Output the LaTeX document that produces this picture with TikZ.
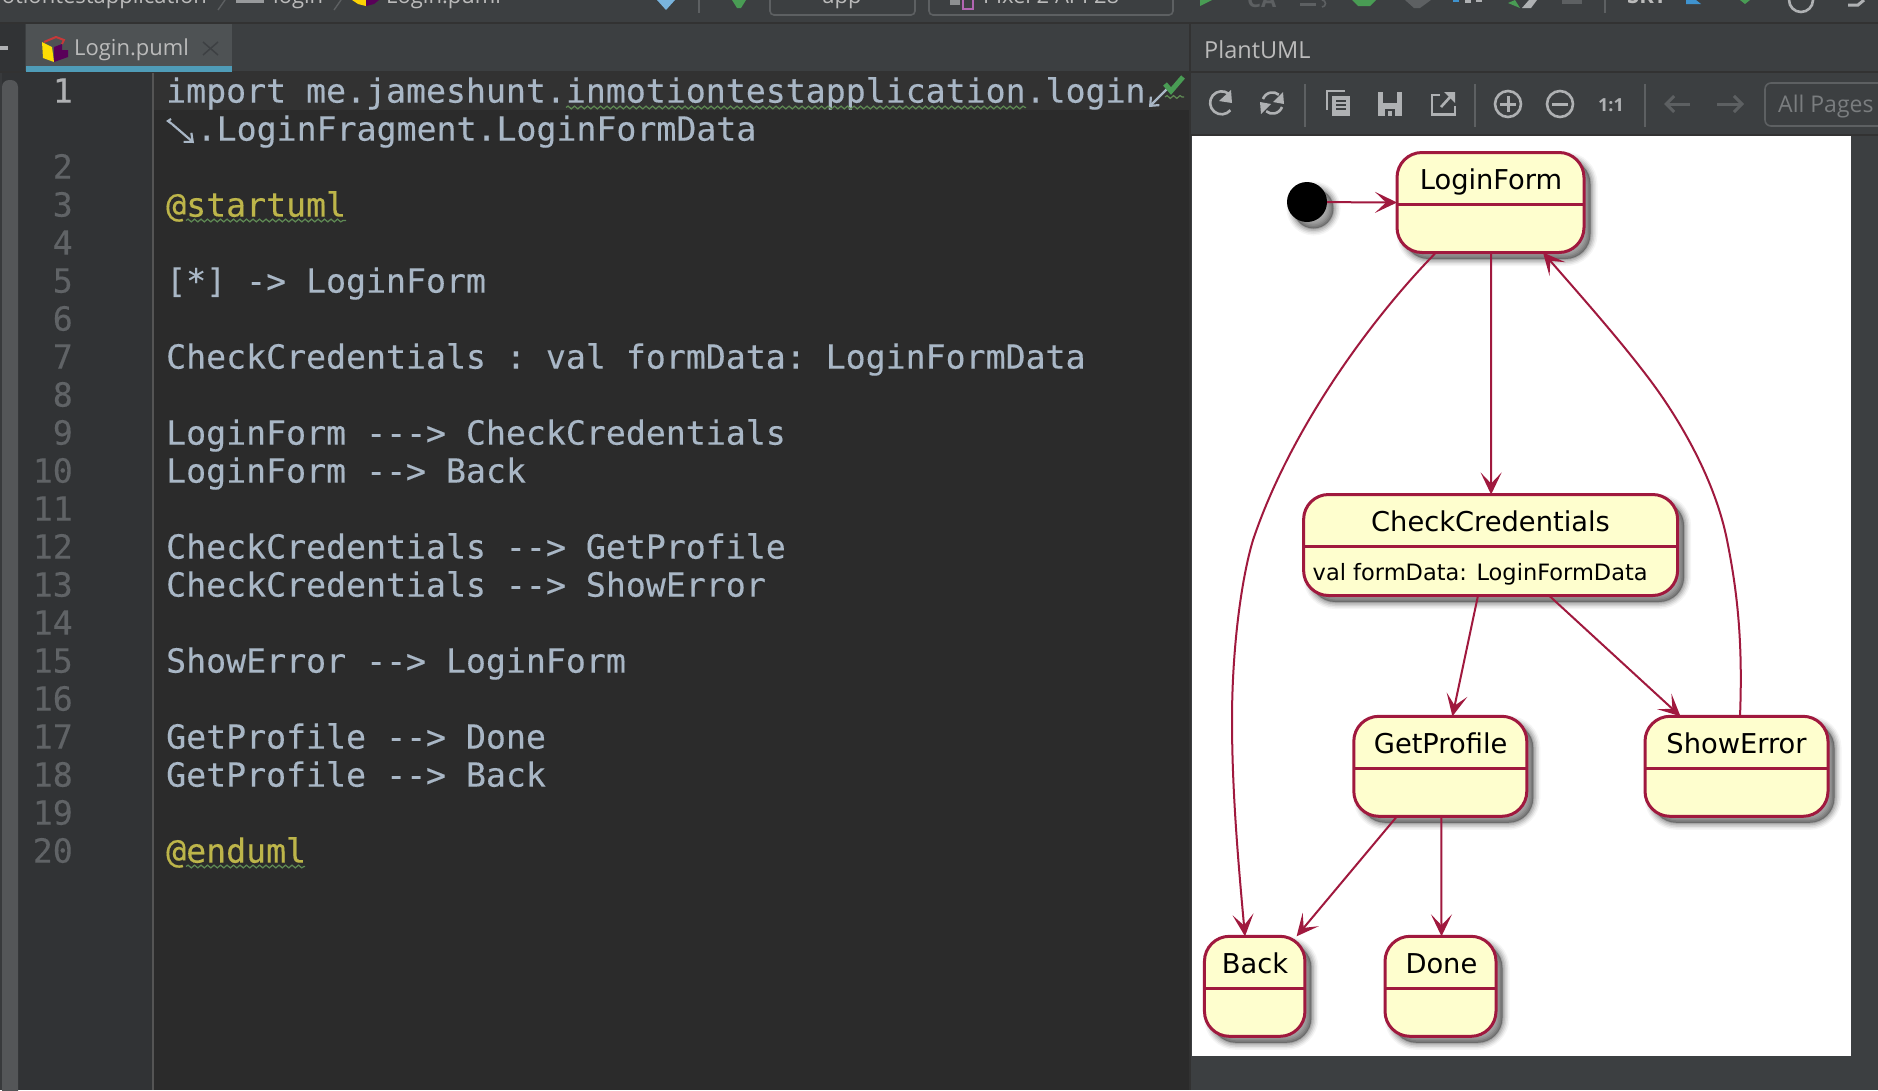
\documentclass[tikz,border=0pt]{standalone}
\usepackage{fontspec}
\setmainfont{Open Sans}
\setmonofont[FakeBold=0.25]{DejaVu Sans Mono}
\newfontfamily\umlfont{DejaVu Sans}
\usetikzlibrary{arrows.meta,decorations.pathmorphing}
\definecolor{uibg}{HTML}{3C3F41}
\definecolor{edbg}{HTML}{2B2B2B}
\definecolor{gutter}{HTML}{313335}
\definecolor{curline}{HTML}{323232}
\definecolor{sepline}{HTML}{323232}
\definecolor{gutline}{HTML}{555555}
\definecolor{codec}{HTML}{A9B7C6}
\definecolor{annot}{HTML}{BDB54A}
\definecolor{lnum}{HTML}{606366}
\definecolor{wavy}{HTML}{5F8A54}
\definecolor{iconc}{HTML}{AFB1B3}
\definecolor{icond}{HTML}{5D6062}
\definecolor{pagesc}{HTML}{7A7D7F}
\definecolor{umlb}{HTML}{A0193E}
\definecolor{umlf}{HTML}{FEFECE}
\definecolor{tabbg}{HTML}{4E5254}
\definecolor{tabline}{HTML}{4F9CB8}
\definecolor{uitext}{HTML}{BBBBBB}
\definecolor{green1}{HTML}{499C54}
\definecolor{blue1}{HTML}{3F93CF}
\tikzset{
  x=1pt,y=-1pt,
  codeline/.style={anchor=base west,inner sep=0pt,text=codec,font=\ttfamily\fontsize{33.2}{38}\selectfont},
  annotline/.style={codeline,text=annot},
  numline/.style={anchor=base east,inner sep=0pt,text=lnum,font=\ttfamily\fontsize{33.2}{38}\selectfont},
  uilabel/.style={anchor=base west,inner sep=0pt,text=uitext,font=\fontsize{22}{26}\selectfont},
  wavyline/.style={draw=wavy,line width=1.2pt,decorate,decoration={snake,amplitude=1.4pt,segment length=6.5pt}},
  softshadow/.style={
    preaction={fill=black,draw=black,line width=14pt,opacity=.04,transform canvas={shift={(6.5,6.5)}}},
    preaction={fill=black,draw=black,line width=11pt,opacity=.06,transform canvas={shift={(6.5,6.5)}}},
    preaction={fill=black,draw=black,line width=8pt,opacity=.08,transform canvas={shift={(6.5,6.5)}}},
    preaction={fill=black,draw=black,line width=5pt,opacity=.1,transform canvas={shift={(6.5,6.5)}}},
    preaction={fill=black,draw=black,line width=2pt,opacity=.12,transform canvas={shift={(6.5,6.5)}}}},
  statebox/.style={draw=umlb,fill=umlf,line width=3pt,rounded corners=25pt,inner sep=0pt,outer sep=0pt,softshadow},
  statetitle/.style={anchor=base,inner sep=0pt,text=black,font=\umlfont\fontsize{27.3}{30}\selectfont},
  statebody/.style={anchor=base west,inner sep=0pt,text=black,font=\umlfont\fontsize{22.5}{28}\selectfont},
  divider/.style={draw=umlb,line width=3pt},
  edge/.style={draw=umlb,line width=2pt,-{Stealth[length=22pt,width=21pt,inset=11pt]}},
  icon/.style={draw=iconc,line width=2.6pt},
  iconfill/.style={fill=iconc,draw=none},
  iconsep/.style={draw=#1,line width=1.6pt},
}
\begin{document}
\begin{tikzpicture}
\useasboundingbox (0,0) rectangle (1878,1090);
\clip (0,0) rectangle (1878,1090);
% window backgrounds
\fill[uibg] (0,0) rectangle (1878,1090);
\fill[edbg] (24,72) rectangle (1189,1090);
\fill[gutter] (24,72) rectangle (153,1090);
\fill[curline] (153,72) rectangle (1189,110);
\draw[gutline,line width=1.6pt] (153,72) -- (153,1090);
\fill[gutter] (0,72) rectangle (24,1090);
\fill[uibg!60!gutter] (0,72) rectangle (2,1090);
\fill[icond!90!black,rounded corners=7pt] (2,80) rectangle (18,1120);
\draw[sepline,line width=2pt] (0,23) -- (1878,23);
\draw[sepline,line width=2pt] (0,71.5) -- (1878,71.5);
\draw[sepline,line width=2pt] (1189.5,23) -- (1189.5,1090);
\draw[sepline,line width=2pt] (1190,134.5) -- (1878,134.5);
\fill[gutter] (0,24) rectangle (25,71);
\fill[iconc] (0,46) rectangle (8,50);
% breadcrumb and top toolbar, cut by the top edge
\node[uilabel,anchor=base east,text=uitext] (crumbA) at (207,3) {iotiontestapplication};
\draw[icond,line width=1.4pt] (218,10) -- (225,0);
\fill[iconc!80!uibg] (236,0) rectangle (264,3);
\node[uilabel] (crumbB) at (273,3) {login};
\draw[icond,line width=1.4pt] (334,10) -- (341,0);
\fill[yellow!70!orange] (352,0) -- (366,0) -- (366,6) -- (358,4) -- cycle;
\fill[violet!70!black] (366,0) -- (379,0) -- (374,4) -- (366,6) -- cycle;
\node[uilabel] (crumbC) at (386,3) {Login.puml};
\fill[blue1!70!white] (657,0) -- (675,0) -- (666,10) -- cycle;
\draw[icond,line width=1.4pt] (699,0) -- (699,13);
\fill[green1] (732,0) -- (746,0) -- (741,8) -- (737,8) -- cycle;
\draw[icond,line width=1.6pt,rounded corners=4pt] (770,-10) -- (770,15) -- (915,15) -- (915,-10);
\node[uilabel,anchor=base] (appname) at (842,3) {app};
\draw[icond,line width=1.6pt,rounded corners=4pt] (929,-10) -- (929,15) -- (1173,15) -- (1173,-10);
\fill[iconc!70!uibg] (950,0) rectangle (960,5);
\draw[violet!60!white,line width=1.6pt] (963,-2) rectangle (973,9);
\node[uilabel] (device) at (983,3) {Pixel 2 API 28};
\fill[green1] (1200,-6) -- (1212,0) -- (1200,6) -- cycle;
\node[uilabel,text=icond,font=\bfseries\fontsize{22}{26}\selectfont] (runA) at (1247,7) {CA};
\fill[icond] (1300,3) rectangle (1316,6);
\draw[icond,line width=1.6pt] (1322,0) arc[start angle=-90,end angle=90,radius=3.5];
\fill[green1] (1352,0) -- (1376,0) -- (1370,6) -- (1358,6) -- cycle;
\fill[icond] (1405,0) -- (1431,0) -- (1420,8) -- (1414,8) -- cycle;
\fill[blue1] (1453,0) rectangle (1459,2);
\fill[iconc] (1465,0) rectangle (1471,3);
\fill[iconc] (1476,0) rectangle (1482,2);
\fill[green1] (1508,3) -- (1515,0) -- (1520,8) -- cycle;
\fill[iconc] (1522,8) -- (1529,0) -- (1537,0) -- (1531,8) -- cycle;
\fill[icond] (1562,0) rectangle (1582,4);
\draw[icond,line width=1.4pt] (1605,0) -- (1605,13);
\node[uilabel,font=\bfseries\fontsize{22}{26}\selectfont] (user) at (1627,3) {SKT};
\fill[blue1] (1686,0) -- (1696,0) -- (1701,4) -- (1686,4) -- cycle;
\fill[green1] (1740,0) -- (1750,0) -- (1745,4) -- cycle;
\draw[iconc,line width=2.6pt] (1789,0) arc[start angle=180,end angle=0,radius=12];
\draw[iconc,line width=3pt] (1848,5) -- (1858,5) -- (1864,0);
% editor tab
\fill[tabbg] (26,24) rectangle (232,66);
\fill[tabline] (26,66) rectangle (232,72);
\fill[yellow!80!orange] (42,42) -- (52,47) -- (54,62) -- (43,58) -- cycle;
\fill[violet!70!black] (54,62) -- (54,47) -- (62,44) -- (62,50) -- (68,50) -- (68,57) -- cycle;
\draw[red!55!gray,line width=2pt] (44,42) -- (56,37) -- (64,40) -- (62,44);
\node[uilabel] (tabname) at (74,55) {Login.puml};
\draw[icond!120!white,line width=1.5pt] (203,42) -- (218,55) (218,42) -- (203,55);
% code
\foreach \n/\r in {2/2,3/3,4/4,5/5,6/6,7/7,8/8,9/9,10/10,11/11,12/12,13/13,14/14,15/15,16/16,17/17,18/18,19/19,20/20}{
  \pgfmathsetmacro{\yy}{102.6+38*\r}
  \node[numline] (ln\n) at (73,\yy) {\n};
}
\node[numline,text=iconc] (ln1) at (73,102.6) {1};
\node[codeline] (row0) at (166,102.6) {import me.jameshunt.inmotiontestapplication.login};
\node[codeline] (row1) at (196.5,140.6) {.LoginFragment.LoginFormData};
\node[annotline] (row3) at (166,216.6) {@startuml};
\node[codeline] (row5) at (166,292.6) {[*] -> LoginForm};
\node[codeline] (row7) at (166,368.6) {CheckCredentials : val formData: LoginFormData};
\node[codeline] (row9) at (166,444.6) {LoginForm ---> CheckCredentials};
\node[codeline] (row10) at (166,482.6) {LoginForm --> Back};
\node[codeline] (row12) at (166,558.6) {CheckCredentials --> GetProfile};
\node[codeline] (row13) at (166,596.6) {CheckCredentials --> ShowError};
\node[codeline] (row15) at (166,672.6) {ShowError --> LoginForm};
\node[codeline] (row17) at (166,748.6) {GetProfile --> Done};
\node[codeline] (row18) at (166,786.6) {GetProfile --> Back};
\node[annotline] (row20) at (166,862.6) {@enduml};
\draw[wavyline] (566,107.5) -- (1026,107.5);
\draw[wavyline] (186,220.5) -- (346,220.5);
\draw[wavyline] (186,866.5) -- (305,866.5);
\draw[wavyline] (1165,97) -- (1184,97);
% soft-wrap marks and inspection tick
\draw[codec,line width=2.2pt,-{Straight Barb[length=7pt,width=12pt]}] (172,124) -- (194,143);
\draw[codec,line width=2.2pt] (172,124) -- (168,121) -- (171,119);
\draw[codec,line width=2.2pt,-{Straight Barb[length=7pt,width=12pt]}] (1167,89) -- (1149,107);
\draw[green1,line width=5pt] (1165,84) -- (1171,91) -- (1183,77);
% PlantUML panel
\node[uilabel,font=\fontsize{23.5}{26}\selectfont] (paneltitle) at (1204,58) {PlantUML};
\draw[iconsep=icond] (1305,84) -- (1305,127);
\draw[iconsep=icond] (1475,84) -- (1475,127);
\draw[iconsep=icond] (1645,84) -- (1645,127);
% refresh
\draw[icon] (1229,94) arc[start angle=-50,end angle=-320,radius=11.5];
\fill[iconc] (1231,90) -- (1232,103) -- (1219,101) -- cycle;
% sync
\draw[icon] (1263,99) arc[start angle=-160,end angle=-50,radius=10];
\fill[iconc] (1283,92) -- (1284,104) -- (1273,102) -- cycle;
\draw[icon] (1282,107) arc[start angle=20,end angle=130,radius=10];
\fill[iconc] (1261,114) -- (1260,102) -- (1271,104) -- cycle;
% copy
\draw[icon] (1345,91) -- (1327,91) -- (1327,110);
\fill[iconc] (1332,96) rectangle (1350,116);
\foreach \yy in {101,105,109}{\draw[uibg,line width=1.6pt] (1336,\yy) -- (1346,\yy);}
% save
\fill[iconc] (1378,92) rectangle (1402,116);
\fill[uibg] (1383,92) rectangle (1397,103);
\fill[uibg] (1385,109) rectangle (1395,116);
\fill[iconc] (1388,111) rectangle (1392,116);
% export
\draw[icon] (1440,95) -- (1432,95) -- (1432,114.5) -- (1455,114.5) -- (1455,106);
\draw[icon] (1441,107) -- (1451,96);
\fill[iconc] (1444,92) -- (1455,92) -- (1455,103) -- cycle;
% zoom controls
\draw[icon] (1508,104) circle[radius=13];
\draw[icon,line width=3pt] (1500,104) -- (1516,104) (1508,96) -- (1508,112);
\draw[icon] (1560,104) circle[radius=13];
\draw[icon,line width=3pt] (1552,104) -- (1568,104);
\node[anchor=base,inner sep=0pt,text=iconc,font=\bfseries\fontsize{18}{22}\selectfont] (oneone) at (1611,111) {1:1};
\draw[draw=icond,line width=3pt,-{Straight Barb[length=8pt,width=16pt]}] (1690,104) -- (1664,104);
\draw[draw=icond,line width=3pt,-{Straight Barb[length=8pt,width=16pt]}] (1717,104) -- (1744,104);
\draw[icond,line width=1.6pt,rounded corners=6pt] (1890,83) -- (1765,83) -- (1765,126) -- (1890,126);
\node[uilabel,text=pagesc,font=\fontsize{23}{26}\selectfont] (pages) at (1778,112) {All Pages};
% diagram canvas
\fill[white] (1192,136) rectangle (1851,1056);
\node[circle,fill=black,inner sep=0pt,minimum size=40pt,softshadow] (start) at (1307,202) {};
\node[statebox,minimum width=187pt,minimum height=100pt] (loginform) at (1490.5,202.5) {};
\node[statebox,minimum width=374pt,minimum height=101pt] (check) at (1490.6,545) {};
\node[statebox,minimum width=173pt,minimum height=100pt] (getprofile) at (1440.3,766.3) {};
\node[statebox,minimum width=183pt,minimum height=100pt] (showerror) at (1736.5,766.3) {};
\node[statebox,minimum width=100.5pt,minimum height=100pt] (back) at (1254.7,986.3) {};
\node[statebox,minimum width=111pt,minimum height=100pt] (done) at (1440.5,986.3) {};
\draw[divider] ([yshift=-1.5pt]loginform.west) -- ([yshift=-1.5pt]loginform.east);
\draw[divider] ([yshift=-1.7pt]check.west) -- ([yshift=-1.7pt]check.east);
\draw[divider] ([yshift=-1.7pt]getprofile.west) -- ([yshift=-1.7pt]getprofile.east);
\draw[divider] ([yshift=-1.7pt]showerror.west) -- ([yshift=-1.7pt]showerror.east);
\draw[divider] ([yshift=-2pt]back.west) -- ([yshift=-2pt]back.east);
\draw[divider] ([yshift=-2pt]done.west) -- ([yshift=-2pt]done.east);
\node[statetitle] (loginformT) at (1491,189) {LoginForm};
\node[statetitle] (checkT) at (1490.5,531) {CheckCredentials};
\node[statebody] (checkB) at (1312.5,580) {val formData: LoginFormData};
\node[statetitle] (getprofileT) at (1440.6,753.5) {GetProfile};
\node[statetitle] (showerrorT) at (1736.5,753.5) {ShowError};
\node[statetitle] (backT) at (1255,973.5) {Back};
\node[statetitle] (doneT) at (1441.4,973.5) {Done};
% connectors
\draw[edge] (start) -- (loginform.west);
\draw[edge] ([xshift=.5pt]loginform.south) -- ([xshift=.5pt]check.north);
\draw[edge] ([xshift=-54.5pt]loginform.south)
  .. controls (1370,320) and (1290,430) .. (1253,540)
  .. controls (1241,580) and (1232,650) .. (1232,720)
  .. controls (1232,790) and (1238,860) .. ([xshift=-9.7pt]back.north);
\draw[edge] ([xshift=3.5pt]showerror.north)
  .. controls (1743,640) and (1737,590) .. (1727,540)
  .. controls (1715,480) and (1680,420) .. (1650,380)
  .. controls (1620,340) and (1580,295) .. ([xshift=52.5pt]loginform.south);
\draw[edge] ([xshift=-12.6pt]check.south) -- ([xshift=12.1pt]getprofile.north);
\draw[edge] ([xshift=58.4pt]check.south) -- ([xshift=-56pt]showerror.north);
\draw[edge] ([xshift=-43.3pt]getprofile.south) -- ([xshift=41.9pt]back.north);
\draw[edge] ([xshift=1pt]getprofile.south) -- ([xshift=1pt]done.north);
\end{tikzpicture}
\end{document}
